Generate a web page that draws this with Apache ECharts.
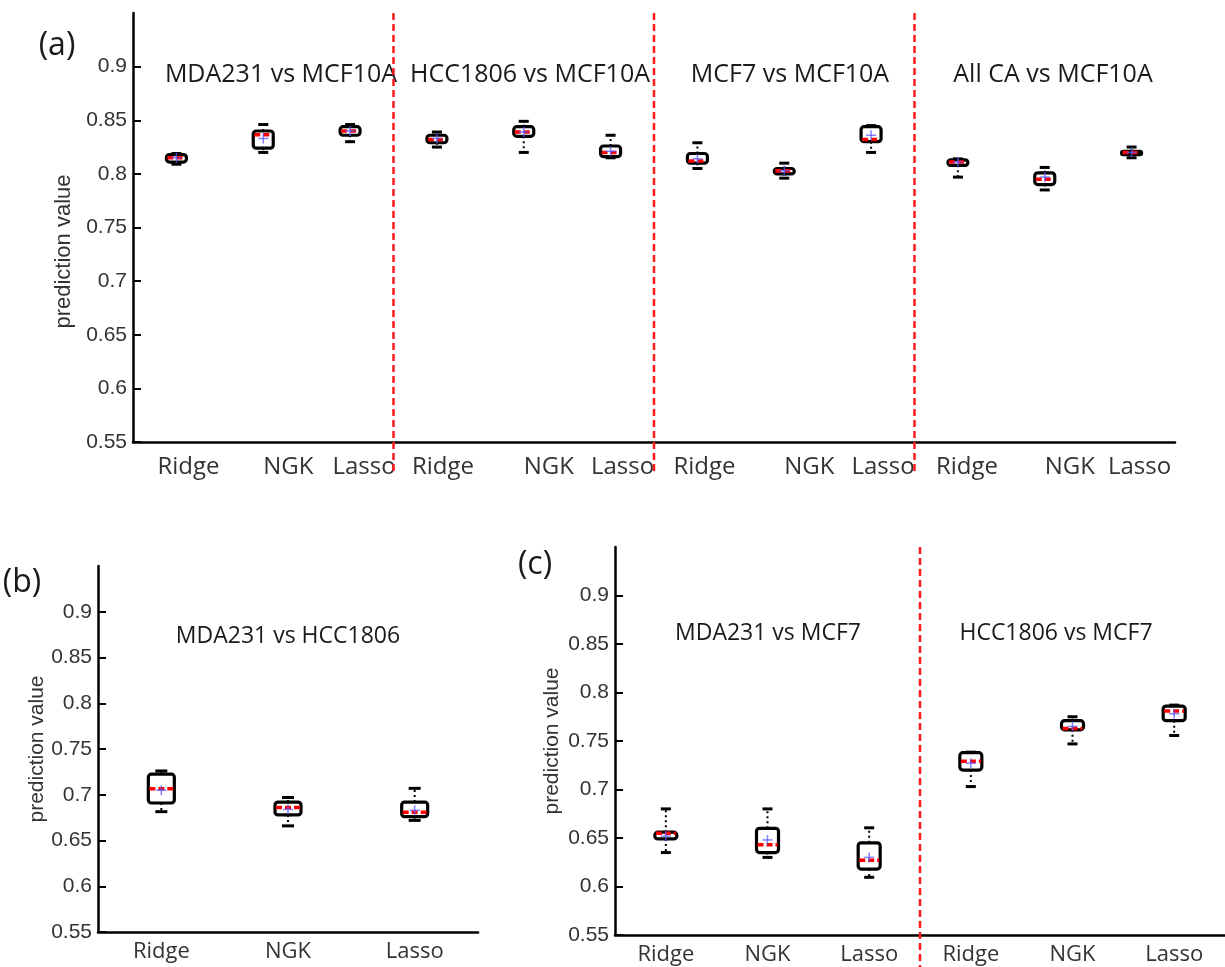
<!DOCTYPE html>
<html>
<head>
<meta charset="utf-8">
<title>prediction value</title>
<script src="https://cdn.jsdelivr.net/npm/echarts@6/dist/echarts.min.js"></script>
<style>
  html, body { margin: 0; padding: 0; background: #fff; }
  #chart { width: 1225px; height: 967px; }
</style>
</head>
<body>
<div id="chart"></div>
<script>
// categories of each panel
var catsA = ['Ridge', 'NGK', 'Lasso', 'Ridge', 'NGK', 'Lasso', 'Ridge', 'NGK', 'Lasso', 'Ridge', 'NGK', 'Lasso'];
var catsB = ['Ridge', 'NGK', 'Lasso'];
var catsC = ['Ridge', 'NGK', 'Lasso', 'Ridge', 'NGK', 'Lasso'];

var titlesA = ['MDA231 vs MCF10A', 'HCC1806 vs MCF10A', 'MCF7 vs MCF10A', 'All CA vs MCF10A'];
var titlesB = ['MDA231 vs HCC1806'];
var titlesC = ['MDA231 vs MCF7', 'HCC1806 vs MCF7'];

var yTicks = [0.55, 0.6, 0.65, 0.7, 0.75, 0.8, 0.85, 0.9];

// [min, q1, median, q3, max, mean]
var boxA = [
  [0.809, 0.811, 0.815, 0.818, 0.819, 0.815],
  [0.820, 0.824, 0.8365, 0.840, 0.846, 0.833],
  [0.830, 0.836, 0.840, 0.844, 0.846, 0.840],
  [0.825, 0.829, 0.832, 0.836, 0.839, 0.833],
  [0.820, 0.835, 0.839, 0.844, 0.849, 0.839],
  [0.815, 0.816, 0.820, 0.826, 0.836, 0.821],
  [0.805, 0.810, 0.812, 0.819, 0.829, 0.814],
  [0.796, 0.800, 0.803, 0.805, 0.810, 0.803],
  [0.820, 0.830, 0.832, 0.844, 0.845, 0.836],
  [0.797, 0.808, 0.811, 0.813, 0.814, 0.811],
  [0.785, 0.790, 0.795, 0.801, 0.806, 0.797],
  [0.815, 0.818, 0.820, 0.821, 0.825, 0.820]
];
var boxB = [
  [0.6815, 0.691, 0.7065, 0.7225, 0.726, 0.705],
  [0.666, 0.678, 0.686, 0.692, 0.697, 0.684],
  [0.672, 0.676, 0.681, 0.692, 0.707, 0.683]
];
var boxC = [
  [0.635, 0.649, 0.655, 0.656, 0.680, 0.652],
  [0.630, 0.635, 0.643, 0.660, 0.680, 0.648],
  [0.6095, 0.618, 0.627, 0.645, 0.6605, 0.630],
  [0.703, 0.720, 0.729, 0.738, 0.7385, 0.727],
  [0.747, 0.7615, 0.763, 0.771, 0.775, 0.765],
  [0.7557, 0.771, 0.781, 0.786, 0.787, 0.778]
];

// red dashed dividers sit after these categories
var splitA = [2, 5, 8];
var splitC = [2];

var Y_MIN = 0.55, Y_MAX = 0.95;

// label nudges in panel (a), px
var shiftA = [12, 25, 14, 6, 25, 12, 7, 25, 12, 9, 25, 8];

function withIndex(rows) {
  return rows.map(function (r, i) { return [i].concat(r); });
}

function boxRenderer(halfW, capW) {
  return function (params, api) {
    var i = api.value(0);
    var x = api.coord([i, 0.7])[0];
    var y = function (k) { return api.coord([i, api.value(k)])[1]; };
    var yMin = y(1), yQ1 = y(2), yMed = y(3), yQ3 = y(4), yMax = y(5), yMean = y(6);
    var dotted = { stroke: '#000', lineWidth: 2, lineDash: [2, 3] };
    var cap = { stroke: '#000', lineWidth: 3 };
    var plus = { stroke: 'rgba(90,90,255,0.75)', lineWidth: 1.5 };
    return {
      type: 'group',
      children: [
        { type: 'line', shape: { x1: x, y1: yQ3, x2: x, y2: yMax }, style: dotted },
        { type: 'line', shape: { x1: x, y1: yQ1, x2: x, y2: yMin }, style: dotted },
        { type: 'line', shape: { x1: x - capW, y1: yMax, x2: x + capW, y2: yMax }, style: cap },
        { type: 'line', shape: { x1: x - capW, y1: yMin, x2: x + capW, y2: yMin }, style: cap },
        {
          type: 'rect',
          shape: { x: x - halfW, y: yQ3, width: halfW * 2, height: Math.max(yQ1 - yQ3, 1), r: 3 },
          style: { fill: '#fff', stroke: '#000', lineWidth: 3.2 }
        },
        {
          type: 'line',
          shape: { x1: x - halfW + 1, y1: yMed, x2: x + halfW - 1, y2: yMed },
          style: { stroke: '#ff0000', lineWidth: 3.5, lineDash: [6, 3] }
        },
        { type: 'line', shape: { x1: x - 5, y1: yMean, x2: x + 5, y2: yMean }, style: plus },
        { type: 'line', shape: { x1: x, y1: yMean - 5, x2: x, y2: yMean + 5 }, style: plus }
      ]
    };
  };
}

function dividerRenderer(below) {
  return function (params, api) {
    var i = api.value(0);
    var top = api.coord([i, Y_MAX]);
    var bottom = api.coord([i, Y_MIN]);
    var x = top[0] + api.size([1, 0])[0] / 2;
    return {
      type: 'line',
      shape: { x1: x, y1: top[1], x2: x, y2: bottom[1] + below },
      style: { stroke: '#ff1a1a', lineWidth: 2.5, lineDash: [7, 4] }
    };
  };
}

function yAxisOf(gridIndex, gap, pad, nameSize, labelSize) {
  return {
    type: 'value',
    gridIndex: gridIndex,
    min: Y_MIN,
    max: Y_MAX,
    name: 'prediction value',
    nameLocation: 'middle',
    nameRotate: 90,
    nameGap: gap,
    nameTextStyle: {
      fontFamily: 'Liberation Sans', fontSize: nameSize, color: '#333',
      padding: [0, pad, 0, 0]
    },
    axisLine: { show: true, lineStyle: { color: '#000', width: 2.5 } },
    axisTick: {
      show: true, inside: true, length: 8, customValues: yTicks,
      lineStyle: { color: '#000', width: 2 }
    },
    axisLabel: {
      customValues: yTicks, margin: 6,
      fontFamily: 'Liberation Sans', fontSize: labelSize, color: '#333'
    },
    splitLine: { show: false }
  };
}

function xAxisOf(gridIndex, cats, labelExtra) {
  var label = {
    interval: 0, margin: 9,
    fontFamily: 'Open Sans', fontSize: 22, color: '#333'
  };
  if (labelExtra) {
    Object.assign(label, labelExtra);
  }
  return {
    type: 'category',
    gridIndex: gridIndex,
    data: cats,
    boundaryGap: true,
    axisLine: { onZero: false, lineStyle: { color: '#000', width: 2.5 } },
    axisTick: {
      inside: true, alignWithLabel: true, length: 7,
      lineStyle: { color: '#000', width: 2 }
    },
    axisLabel: label,
    splitLine: { show: false }
  };
}

// per-label nudge for panel (a)
var richA = {};
shiftA.forEach(function (s, i) {
  richA['s' + i] = {
    fontFamily: 'Open Sans', fontSize: 24, color: '#333',
    padding: [0, 0, 0, s * 2]
  };
});

function text(str, x, y, size) {
  return {
    type: 'text', x: x, y: y, silent: true,
    style: {
      text: str, fill: '#1a1a1a', align: 'center', verticalAlign: 'middle',
      fontFamily: 'Open Sans', fontSize: size
    }
  };
}

var myChart = echarts.init(document.getElementById('chart'));

var option = {
  backgroundColor: '#fff',
  animation: false,
  grid: [
    { left: 133, top: 13, width: 1042, height: 429 },
    { left: 98, top: 566, width: 380, height: 366 },
    { left: 615, top: 547, width: 615, height: 388 }
  ],
  xAxis: [
    xAxisOf(0, catsA, {
      margin: 13,
      formatter: function (v, i) { return '{s' + i + '|' + v + '}'; },
      rich: richA
    }),
    xAxisOf(1, catsB),
    xAxisOf(2, catsC)
  ],
  yAxis: [
    yAxisOf(0, 56, 48, 22, 21),
    yAxisOf(1, 50, 0, 21, 21),
    yAxisOf(2, 52, 0, 21, 21)
  ],
  graphic: [
    text('(a)', 57, 46, 32),
    text('(b)', 22, 583, 32),
    text('(c)', 535, 565, 32),
    text(titlesA[0], 281, 75, 25),
    text(titlesA[1], 530, 75, 25),
    text(titlesA[2], 790, 75, 25),
    text(titlesA[3], 1053, 75, 25),
    text(titlesB[0], 288, 636, 23),
    text(titlesC[0], 768, 633, 23),
    text(titlesC[1], 1056, 633, 23)
  ],
  series: [
    {
      type: 'custom', xAxisIndex: 0, yAxisIndex: 0,
      data: splitA.map(function (i) { return [i, Y_MAX]; }),
      renderItem: dividerRenderer(30), clip: false, silent: true, z: 1
    },
    {
      type: 'custom', xAxisIndex: 2, yAxisIndex: 2,
      data: splitC.map(function (i) { return [i, Y_MAX]; }),
      renderItem: dividerRenderer(40), clip: false, silent: true, z: 1
    },
    {
      type: 'custom', xAxisIndex: 0, yAxisIndex: 0,
      data: withIndex(boxA),
      encode: { x: 0, y: [1, 2, 3, 4, 5, 6] },
      renderItem: boxRenderer(10, 5), z: 3
    },
    {
      type: 'custom', xAxisIndex: 1, yAxisIndex: 1,
      data: withIndex(boxB),
      encode: { x: 0, y: [1, 2, 3, 4, 5, 6] },
      renderItem: boxRenderer(13, 6), z: 3
    },
    {
      type: 'custom', xAxisIndex: 2, yAxisIndex: 2,
      data: withIndex(boxC),
      encode: { x: 0, y: [1, 2, 3, 4, 5, 6] },
      renderItem: boxRenderer(11, 5), z: 3
    }
  ]
};

myChart.setOption(option);
</script>
</body>
</html>
